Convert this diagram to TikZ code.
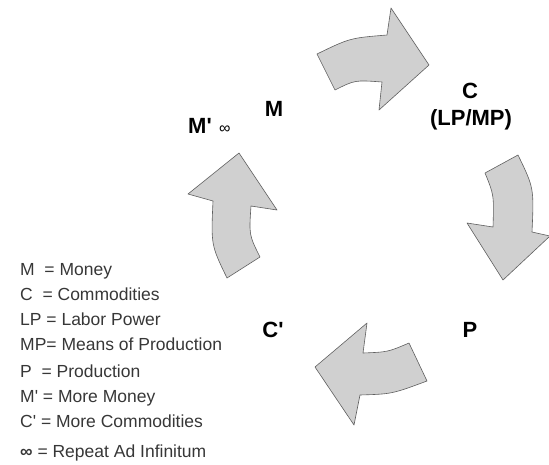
\documentclass[tikz,border=0pt]{standalone}
\usepackage{fontspec}
\setmainfont{Liberation Sans}[Ligatures=TeXOff]
\definecolor{arrowfill}{RGB}{208,208,208}
\definecolor{arrowline}{RGB}{95,95,95}
\definecolor{legtext}{RGB}{55,55,55}
\begin{document}
\begin{tikzpicture}[x=1pt,y=-1pt,
  cyc/.style={fill=arrowfill, draw=arrowline, line width=0.6pt, line join=round},
  lbl/.style={font=\fontsize{22}{24}\selectfont\bfseries, inner sep=0pt, anchor=base},
  leg/.style={font=\fontsize{17.5}{20}\selectfont, text=legtext, inner sep=0pt, anchor=base west}]
\useasboundingbox (0,0) rectangle (549,464);
% curved block arrows
\draw[cyc] (317,54) .. controls (350,38) .. (387,35) -- (391,8) -- (429,65) -- (379,110)
  -- (382,82) .. controls (355,80) .. (335,90) -- cycle;
\draw[cyc] (485,173) -- (518,155) .. controls (534,188) .. (532,232) -- (550,236)
  -- (503,280) -- (467,223) -- (493,227) .. controls (494,195) .. (485,173) -- cycle;
\draw[cyc] (315,367) -- (367,323) -- (363,353) .. controls (388,352) .. (409,343)
  -- (427,381) .. controls (392,394) .. (360,395) -- (354,425) -- cycle;
\draw[cyc] (239,153) -- (277,210) -- (251,206) .. controls (249,235) .. (260,257)
  -- (227,278) .. controls (211,245) .. (213,201) -- (188,194) -- cycle;
% stage labels
\node[lbl] (m) at (274,116) {M};
\node[lbl, anchor=base west] (mp) at (188,133) {M'};
\node[font=\fontsize{16}{18}\selectfont, inner sep=0pt, anchor=base west] (inf) at (219,133) {∞};
\node[lbl] (c) at (470,98) {C};
\node[lbl] (lpmp) at (471,125) {(LP/MP)};
\node[lbl] (cp) at (273,337) {C'};
\node[lbl] (p) at (470,337) {P};
% legend
\node[leg] (l1) at (20,275) {M~~= Money};
\node[leg] (l2) at (20,300) {C~~= Commodities};
\node[leg] (l3) at (20,325) {LP = Labor Power};
\node[leg] (l4) at (20,350) {MP= Means of Production};
\node[leg] (l5) at (20,377) {P~~= Production};
\node[leg] (l6) at (20,402) {M' = More Money};
\node[leg] (l7) at (20,427) {C' = More Commodities};
\node[leg] (l8) at (20,457) {{\bfseries ∞} = Repeat Ad Infinitum};
\end{tikzpicture}
\end{document}
